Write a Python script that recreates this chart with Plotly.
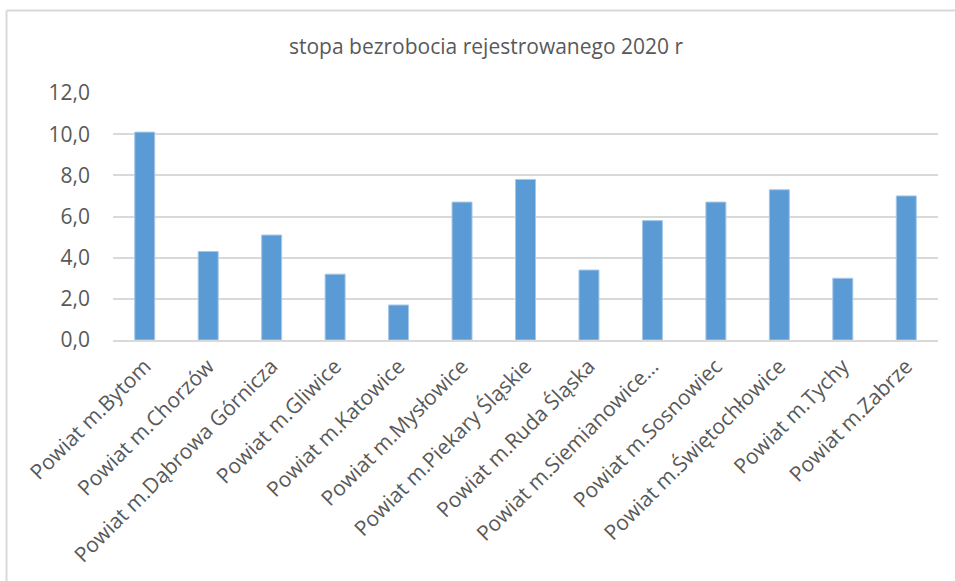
import plotly.graph_objects as go

# Registered unemployment rate by city county, 2020
categories = [
    "Powiat m.Bytom",
    "Powiat m.Chorzów",
    "Powiat m.Dąbrowa Górnicza",
    "Powiat m.Gliwice",
    "Powiat m.Katowice",
    "Powiat m.Mysłowice",
    "Powiat m.Piekary Śląskie",
    "Powiat m.Ruda Śląska",
    "Powiat m.Siemianowice…",
    "Powiat m.Sosnowiec",
    "Powiat m.Świętochłowice",
    "Powiat m.Tychy",
    "Powiat m.Zabrze",
]
rates = [10.1, 4.3, 5.1, 3.2, 1.7, 6.7, 7.8, 3.4, 5.8, 6.7, 7.3, 3.0, 7.0]

title_text = "stopa bezrobocia rejestrowanego 2020 r"
y_ticks = [0, 2, 4, 6, 8, 10, 12]
y_tick_labels = ["0,0", "2,0", "4,0", "6,0", "8,0", "10,0", "12,0"]

FONT = "Open Sans"
TEXT = "#595959"
GRID = "#d9d9d9"

W, H = 955, 581
L, R, T, B = 113, 17, 93, 241

fig = go.Figure(
    go.Bar(
        x=categories,
        y=rates,
        marker=dict(color="#5b9bd5", line=dict(color="#a7c7e7", width=1)),
    )
)

# chart-area frame (top and left edges), expressed in paper units
pw, ph = W - L - R, H - T - B
def px_x(x):
    return (x - L) / pw
def px_y(y):
    return (H - B - y) / ph

frame = dict(color=GRID, width=2)
fig.add_shape(type="line", xref="paper", yref="paper",
              x0=px_x(6.5), x1=px_x(W), y0=px_y(10.5), y1=px_y(10.5), line=frame)
fig.add_shape(type="line", xref="paper", yref="paper",
              x0=px_x(6.5), x1=px_x(6.5), y0=px_y(10.5), y1=px_y(H), line=frame)

fig.update_layout(
    width=W,
    height=H,
    margin=dict(l=L, r=R, t=T, b=B),
    paper_bgcolor="white",
    plot_bgcolor="white",
    bargap=0.685,
    showlegend=False,
    font=dict(family=FONT, color=TEXT),
    title=dict(
        text=title_text,
        x=486 / W,
        xanchor="center",
        y=1 - 47 / H,
        yanchor="middle",
        font=dict(family=FONT, size=21, color=TEXT),
    ),
    xaxis=dict(
        tickangle=-45,
        tickfont=dict(family=FONT, size=21, color=TEXT),
        showgrid=False,
        showline=True,
        linecolor=GRID,
        linewidth=1.5,
        ticks="outside",
        ticklen=4,
        tickcolor="rgba(0,0,0,0)",
    ),
    yaxis=dict(
        range=[0, 12],
        tickvals=y_ticks,
        ticktext=y_tick_labels,
        tickfont=dict(family=FONT, size=21, color=TEXT),
        showgrid=True,
        gridcolor=GRID,
        gridwidth=1.5,
        zeroline=False,
        showline=False,
        ticks="",
        ticklabelstandoff=22,
    ),
)

fig.write_html("out.html")
